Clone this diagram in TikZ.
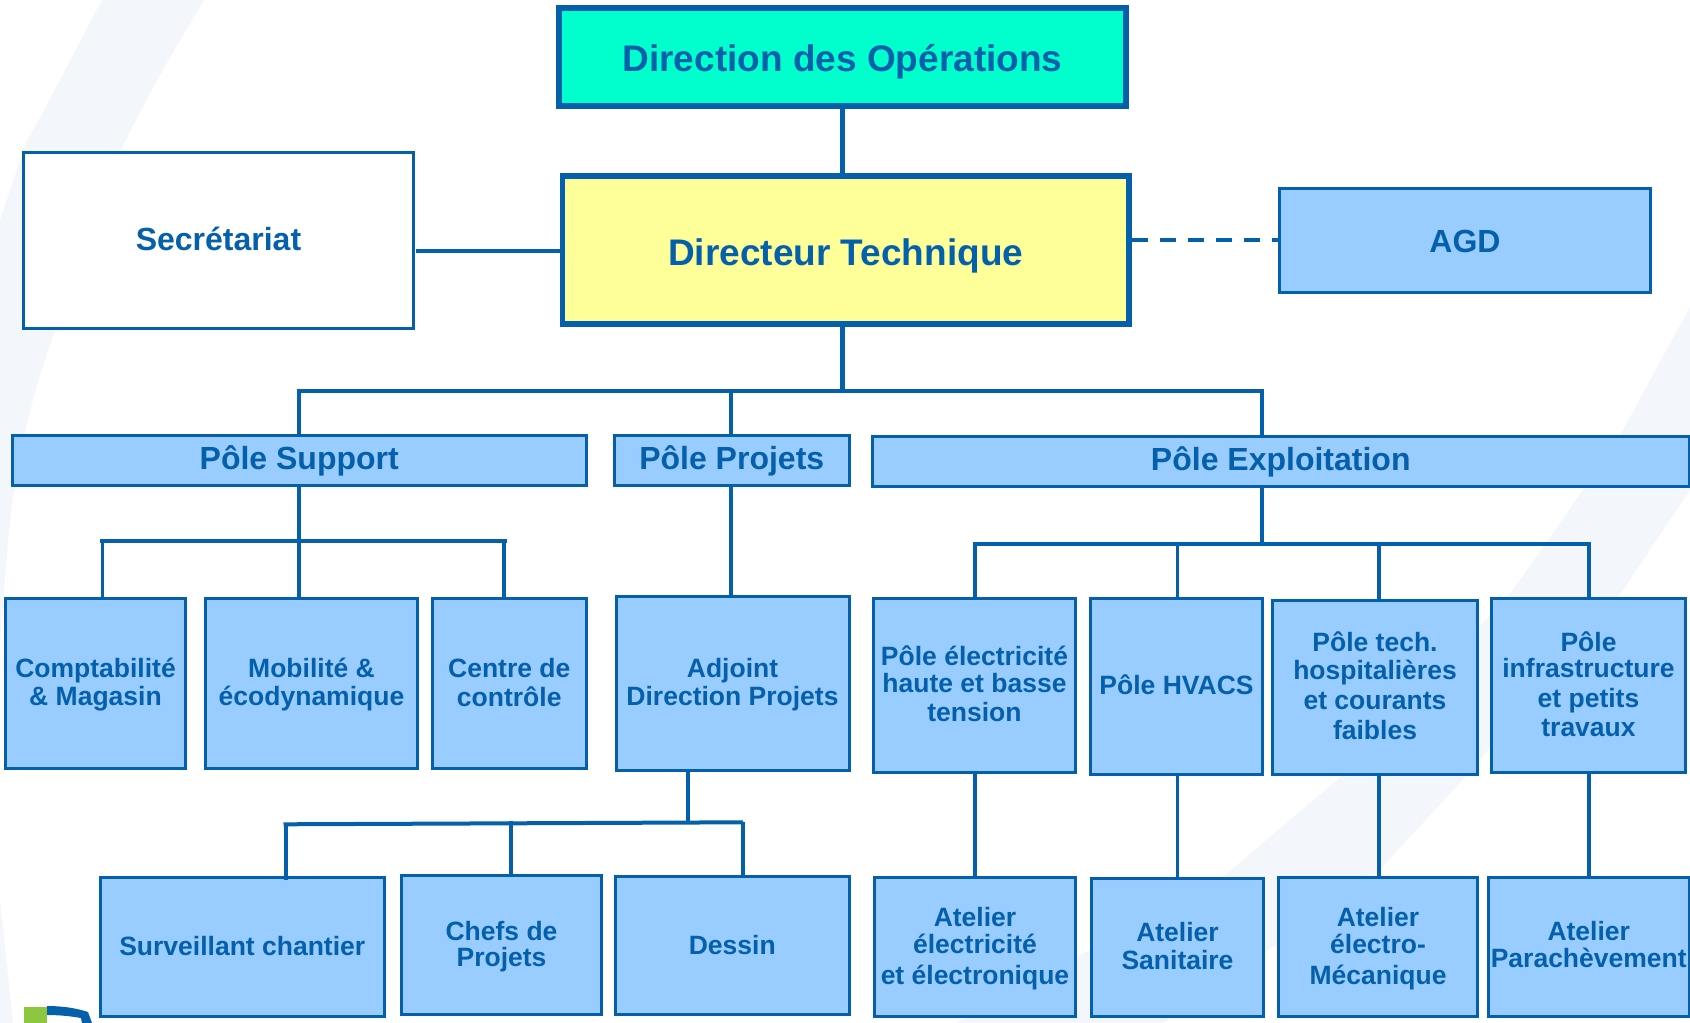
\documentclass[tikz,border=0pt]{standalone}
\usepackage{fontspec}
\setmainfont{Liberation Sans}
\definecolor{linkblue}{HTML}{0560AC}
\definecolor{boxblue}{HTML}{99CCFF}
\definecolor{topteal}{HTML}{00FFCC}
\definecolor{bossyellow}{HTML}{FFFF99}
\definecolor{paleswoosh}{HTML}{F3F6FB}
\definecolor{logogreen}{HTML}{8DC63F}
\tikzset{
  box/.style={rectangle,draw=linkblue,fill=boxblue,line width=3pt,inner sep=0pt,
    text=linkblue,font=\bfseries\fontsize{26.5}{27}\selectfont},
  midbox/.style={box,font=\bfseries\fontsize{32}{32}\selectfont},
  bigbox/.style={box,line width=5.5pt,font=\bfseries\fontsize{37}{37}\selectfont},
  wire/.style={draw=linkblue,line width=3.8pt},
  topwire/.style={draw=linkblue,line width=4.4pt},
  bus/.style={draw=linkblue,line width=4pt},
}
% #1 first-baseline offset from box centre, #2 style, #3 name, #4 x1, #5 y1, #6 x2, #7 y2 (centre-line corners), #8 text
\newcommand{\orgbox}[8][0]{%
  \pgfmathsetmacro{\bw}{#6-#4}\pgfmathsetmacro{\bh}{#7-#5}%
  \pgfmathsetmacro{\bx}{(#4+#6)/2}\pgfmathsetmacro{\by}{(#5+#7)/2}%
  \node[#2,minimum width=\bw pt,minimum height=\bh pt] (#3) at (\bx,\by)
    {\smash{\raisebox{-#1pt}{\begin{tabular}[t]{@{}c@{}}#8\end{tabular}}}};%
}
\begin{document}
\begin{tikzpicture}[x=1pt,y=-1pt]
\useasboundingbox (0,0) rectangle (1690,1023);
\fill[white] (0,0) rectangle (1690,1023);
% background swooshes
\fill[paleswoosh] (102,0) .. controls (70,60) and (40,120) .. (27,140) -- (0,220) -- (0,640)
  .. controls (4,590) and (7,550) .. (11,512) .. controls (20,450) and (30,400) .. (54,333)
  .. controls (70,270) and (90,210) .. (121,150) .. controls (150,90) and (180,40) .. (204,0) -- cycle;
\fill[paleswoosh] (0,900) -- (13,1023) -- (0,1023) -- cycle;
\fill[paleswoosh] (1690,307) -- (1623,430) -- (1583,490) -- (1513,590) -- (1343,775) -- (1223,877)
  -- (957,1023) -- (1163,1023) -- (1373,877) -- (1467,775) -- (1623,590) -- (1690,490) -- cycle;
% logo fragment
\fill[logogreen] (24,1007) rectangle (47,1023);
\fill[linkblue] (47,1006) .. controls (62,1006) and (76,1008) .. (88,1012) -- (92,1023) -- (82,1023)
  -- (81,1018) .. controls (70,1016) and (58,1015) .. (47,1015) -- cycle;
% boxes
\orgbox[14.7]{bigbox,fill=topteal}{dirop}{559}{8}{1126}{106}{Direction des Opérations}
\orgbox[15]{bigbox,fill=bossyellow}{dt}{562.5}{176}{1129}{324}{Directeur Technique}
\orgbox[9.5]{midbox,fill=white}{sec}{23.5}{152.5}{413.5}{328.5}{Secrétariat}
\orgbox[12.2]{midbox}{agd}{1279.5}{188.5}{1650.5}{292.5}{AGD}
\orgbox[9.3]{midbox}{psup}{12.5}{435}{586}{485}{Pôle Support}
\orgbox[8.8]{midbox}{pproj}{614.5}{435.5}{849}{485.5}{Pôle Projets}
\orgbox[8.5]{midbox}{pexp}{872.5}{436.5}{1689}{486.5}{Pôle Exploitation}
\orgbox[-5.8]{box}{compta}{5.5}{598.5}{185.5}{768.5}{Comptabilité\\[0.6pt]\& Magasin}
\orgbox[-5.8]{box}{mob}{205.5}{598.5}{417.5}{768.5}{Mobilité \&\\[0.6pt]écodynamique}
\orgbox[-5.8]{box}{centre}{432.5}{598.5}{586}{768.5}{Centre de\\[0.6pt]contrôle}
\orgbox[-5.8]{box}{adj}{616}{596.5}{849}{770.5}{Adjoint\\[0.3pt]Direction Projets}
\orgbox[8.25]{box}{surv}{100}{877.5}{384.5}{1016}{Surveillant chantier}
\orgbox[-5]{box}{chefs}{401.5}{875.5}{601.5}{1014.5}{Chefs de\\[-1pt]Projets}
\orgbox[8.75]{box}{dessin}{615.5}{876}{849}{1014.5}{Dessin}
\orgbox[-20.2]{box}{pelec}{873.5}{598.2}{1075.5}{772.2}{Pôle électricité\\[-0.3pt]haute et basse\\[2.3pt]tension}
\orgbox[8.1]{box}{hvacs}{1090.5}{598.2}{1262.5}{774.2}{Pôle HVACS}
\orgbox[-35.5]{box}{ptech}{1272.5}{600.2}{1477.5}{774.2}{Pôle tech.\\[0.3pt]hospitalières\\[3.3pt]et courants\\[2pt]faibles}
\orgbox[-34.2]{box}{pinfra}{1491.5}{598.2}{1685.5}{772.2}{Pôle\\[-1.3pt]infrastructure\\[3pt]et petits\\[2pt]travaux}
\orgbox[-20.85]{box}{aelec}{874.5}{877.2}{1075.5}{1016.5}{Atelier\\[-0.3pt]électricité\\[3.7pt]et électronique}
\orgbox[-6]{box}{asan}{1091.5}{878.8}{1263.5}{1016.5}{Atelier\\[0.3pt]Sanitaire}
\orgbox[-20.85]{box}{ameca}{1278.5}{877.2}{1477.5}{1016.5}{Atelier\\[-0.3pt]électro-\\[3.7pt]Mécanique}
\orgbox[-6.2]{box}{apar}{1488.5}{877.2}{1689}{1016.5}{Atelier\\[-1pt]Parachèvement}
% junction coordinates
\coordinate (top) at (842.5,390.7);
\coordinate (mainL) at (299,390.7);
\coordinate (mainM) at (731,390.7);
\coordinate (mainR) at (1262,390.7);
\coordinate (supC) at (299,541.3);
\coordinate (supL) at (100,541.3);
\coordinate (supLd) at (102.5,541.3);
\coordinate (supR) at (507,541.3);
\coordinate (supRd) at (504,541.3);
\coordinate (adjC) at (688,822.6);
\coordinate (prL) at (283.5,824.3);
\coordinate (prLd) at (285.7,824.3);
\coordinate (prM) at (511,820.5);
\coordinate (prR) at (743,822.3);
\coordinate (expL) at (973,543.7);
\coordinate (expLd) at (975,543.7);
\coordinate (expC) at (1262,543.7);
\coordinate (exp2) at (1177.5,543.7);
\coordinate (exp3) at (1378.6,543.7);
\coordinate (expRd) at (1589,543.7);
\coordinate (expR) at (1590.5,543.7);
\coordinate (secR) at (416,251);
\coordinate (agdL) at (1132,240.3);
% connectors
\draw[topwire] (top |- dirop.south) -- (top |- dt.north);
\draw[topwire] (top |- dt.south) -- (top);
\draw[bus] (mainL) -- (mainR);
\draw[wire,shorten <=-1.8pt] (mainL) -- (mainL |- psup.north);
\draw[wire] (mainM) -- (mainM |- pproj.north);
\draw[wire,shorten <=-1.8pt] (mainR) -- (mainR |- pexp.north);
\draw[wire] (secR) -- (secR -| dt.west);
\draw[wire,line width=4pt,dash pattern=on 15.6pt off 12.4pt] (agdL) -- (agdL -| agd.west);
\draw[wire] (supC |- psup.south) -- (supC |- mob.north);
\draw[bus] (supL) -- (supR);
\draw[wire] (supLd) -- (supLd |- compta.north);
\draw[wire] (supRd) -- (supRd |- centre.north);
\draw[wire] (mainM |- pproj.south) -- (mainM |- adj.north);
\draw[wire] (adjC |- adj.south) -- (adjC);
\draw[bus] (prL) -- (prR);
\draw[wire,shorten >=-4pt] (prLd) -- (prLd |- surv.north);
\draw[wire] (prM) -- (prM |- chefs.north);
\draw[wire,shorten >=-2pt] (prR) -- (prR |- dessin.north);
\draw[wire] (expC |- pexp.south) -- (expC);
\draw[bus] (expL) -- (expR);
\draw[wire] (expLd) -- (expLd |- pelec.north);
\draw[wire] (exp2) -- (exp2 |- hvacs.north);
\draw[wire] (exp3) -- (exp3 |- ptech.north);
\draw[wire] (expRd) -- (expRd |- pinfra.north);
\draw[wire] (expLd |- pelec.south) -- (expLd |- aelec.north);
\draw[wire] (exp2 |- hvacs.south) -- (exp2 |- asan.north);
\draw[wire] (exp3 |- ptech.south) -- (exp3 |- ameca.north);
\draw[wire] (expRd |- pinfra.south) -- (expRd |- apar.north);
\end{tikzpicture}
\end{document}
